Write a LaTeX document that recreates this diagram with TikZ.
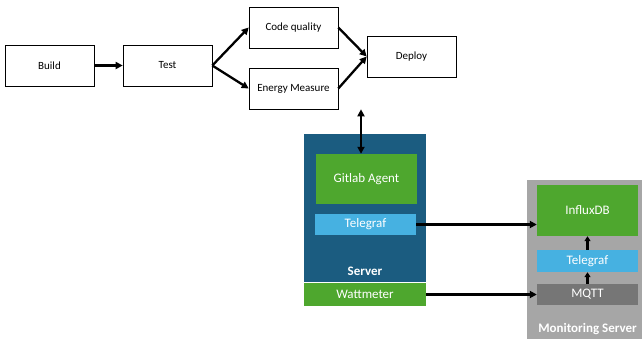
\documentclass[tikz,border=0pt]{standalone}
\usepackage{fontspec}
\setmainfont{Carlito}
\usetikzlibrary{arrows.meta}
\definecolor{srvblue}{HTML}{1B5C80}
\definecolor{agreen}{HTML}{4EA72E}
\definecolor{lblue}{HTML}{46B1E1}
\definecolor{mgray}{HTML}{A6A6A6}
\definecolor{dgray}{HTML}{767676}
\begin{document}
\begin{tikzpicture}[x=1pt,y=-1pt,
  stepbox/.style={draw=black,line width=0.6pt,fill=white,minimum width=89pt,minimum height=41pt,inner sep=0pt,font=\fontsize{11}{13}\selectfont},
  fillbox/.style={draw=none,inner sep=0pt,text=white,font=\fontsize{13}{15}\selectfont},
  conn/.style={line width=2.3pt,-{Triangle[length=7pt,width=7pt]}},
  lbl/.style={text=white,font=\bfseries\fontsize{13}{15}\selectfont,inner sep=0pt}]
\useasboundingbox (0,0) rectangle (642,343);
% pipeline
\node[stepbox] (build) at (49.5,65.5) {Build};
\node[stepbox] (test) at (167.5,65.5) {Test};
\node[stepbox] (cq) at (293.5,27.5) {Code quality};
\node[stepbox] (em) at (293.5,88.5) {Energy Measure};
\node[stepbox] (deploy) at (411.5,56.5) {Deploy};
% server
\node[fill=srvblue,minimum width=122pt,minimum height=148pt,inner sep=0pt] (server) at (365,208) {};
\node[lbl] (serverlbl) at (365,271) {Server};
\node[fillbox,fill=agreen,minimum width=101pt,minimum height=50pt] (agent) at (366.5,179) {Gitlab Agent};
\node[fillbox,fill=lblue,minimum width=101pt,minimum height=21pt] (tel1) at (365.5,224.5) {Telegraf};
\node[fillbox,fill=agreen,minimum width=122pt,minimum height=23pt] (watt) at (365,294.5) {Wattmeter};
% monitoring server
\node[fill=mgray,minimum width=115pt,minimum height=159pt,inner sep=0pt] (mon) at (584.5,259.5) {};
\node[lbl] (monlbl) at (587.5,329) {Monitoring Server};
\node[fillbox,fill=agreen,minimum width=101pt,minimum height=51pt] (influx) at (587.5,210.5) {InfluxDB};
\node[fillbox,fill=lblue,minimum width=101pt,minimum height=22pt] (tel2) at (587.5,261) {Telegraf};
\node[fillbox,fill=dgray,minimum width=101pt,minimum height=21pt] (mqtt) at (587.5,294.5) {MQTT};
% connectors
\draw[conn] (build.east) -- (test.west);
\draw[conn] (test.east) -- (cq.west);
\draw[conn] (test.east) -- (em.west);
\draw[conn] (cq.east) -- (deploy.west);
\draw[conn] (em.east) -- (deploy.west);
\draw[line width=2.3pt,{Triangle[length=7pt,width=7pt]}-{Triangle[length=7pt,width=7pt]}] (em.south -| 361,0) -- (agent.north -| 361,0);
\draw[conn] (tel1.east) -- (tel1.east -| influx.west);
\draw[conn] (watt.east) -- (mqtt.west);
\draw[line width=2.3pt,-{Triangle[length=5pt,width=6pt]}] (mqtt.north) -- (tel2.south);
\draw[line width=2.3pt,-{Triangle[length=5pt,width=6pt]}] (tel2.north) -- (influx.south);
\end{tikzpicture}
\end{document}
